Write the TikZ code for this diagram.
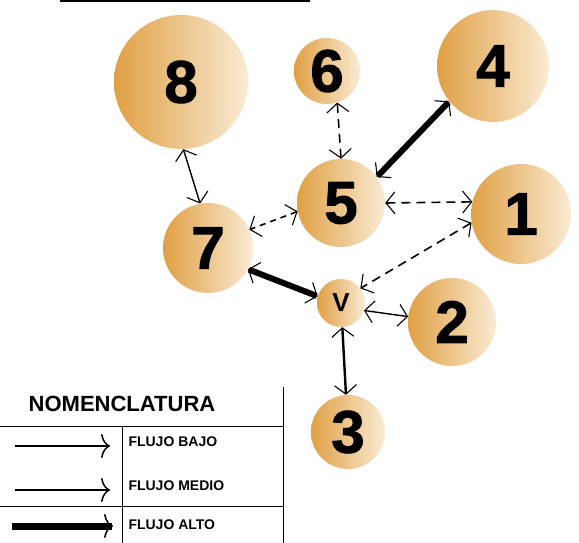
\documentclass[tikz,border=0pt]{standalone}
\usepackage{fontspec}
\setmainfont{Liberation Sans}
\newfontfamily\digfont[FakeBold=1.6]{Liberation Sans Bold}
\usetikzlibrary{arrows.meta}
\definecolor{orL}{RGB}{224,160,68}
\definecolor{orR}{RGB}{250,235,212}

\begin{document}
\begin{tikzpicture}[
  x=1pt,y=-1pt,
  nd/.style={circle,inner sep=0pt,left color=orL,right color=orR,draw=none,
             font=\fontsize{60}{60}\digfont},
  tip/.style={{Straight Barb[length=9pt,width=22pt,line width=1.1pt]}-{Straight Barb[length=9pt,width=22pt,line width=1.1pt]}},
  thn/.style={tip,line width=1.4pt},
  med/.style={tip,line width=2.4pt},
  thk/.style={tip,line width=6pt},
  dsh/.style={tip,line width=1.6pt,dash pattern=on 9pt off 6pt},
  dshs/.style={tip,line width=1.6pt,dash pattern=on 6pt off 5pt},
  lg/.style={-{Computer Modern Rightarrow[length=9pt,width=24pt,line width=1.5pt]}},
  lb/.style={anchor=west,font=\fontsize{14}{14}\selectfont\bfseries}
]
\useasboundingbox (0,0) rectangle (579,543);
% title rule
\draw[line width=2pt] (60,1) -- (310,1);

% nodes
\node[nd,minimum size=134pt] (n8) at (181,82)  {8};
\node[nd,minimum size=66pt]  (n6) at (327,71)  {6};
\node[nd,minimum size=112pt] (n4) at (493,66)  {4};
\node[nd,minimum size=88pt]  (n5) at (341,203) {5};
\node[nd,minimum size=100pt] (n1) at (521,214) {1};
\node[nd,minimum size=90pt]  (n7) at (208,248) {7};
\node[nd,minimum size=48pt,font=\fontsize{26}{26}\selectfont\bfseries] (nv) at (341,303) {V};
\node[nd,minimum size=88pt]  (n2) at (452,322) {2};
\node[nd,minimum size=74pt]  (n3) at (348,432) {3};

% flows
\draw[thn]  (n8.272) -- (n7.100);
\draw[dsh]  (n6.288) -- (n5.north);
\draw[thk]  (n4.219) -- (n5.36);
\draw[dsh]  (n5.east) -- (n1.166);
\draw[dshs] (n5.191) -- (n7.24);
\draw[dsh]  (n1.190) -- (nv.37);
\draw[thk]  (n7.332) -- (nv.164);
\draw[thn]  (nv.342) -- (n2.173);
\draw[med]  (nv) -- (n3);

% nomenclature table
\node[font=\fontsize{22}{22}\selectfont\bfseries] (nomen) at (122,404) {NOMENCLATURA};
\draw[line width=1pt] (0,426) -- (283,426);
\draw[line width=1pt] (0,506) -- (283,506);
\draw[line width=1pt] (283,387) -- (283,543);
\draw[line width=1pt] (122,426) -- (122,543);
\node[lb] (lbajo)  at (125,442) {FLUJO BAJO};
\node[lb] (lmedio) at (125,486) {FLUJO MEDIO};
\node[lb] (lalto)  at (125,525) {FLUJO ALTO};
\draw[lg,line width=1.6pt] ([shift={(-110pt,-4pt)}]lbajo.west)  -- ([shift={(-15pt,-4pt)}]lbajo.west);
\draw[lg,line width=1.6pt] ([shift={(-110pt,-4pt)}]lmedio.west) -- ([shift={(-15pt,-4pt)}]lmedio.west);
\draw[lg,line width=7pt]   ([shift={(-113pt,-1pt)}]lalto.west)  -- ([shift={(-12pt,-1pt)}]lalto.west);
\end{tikzpicture}
\end{document}
